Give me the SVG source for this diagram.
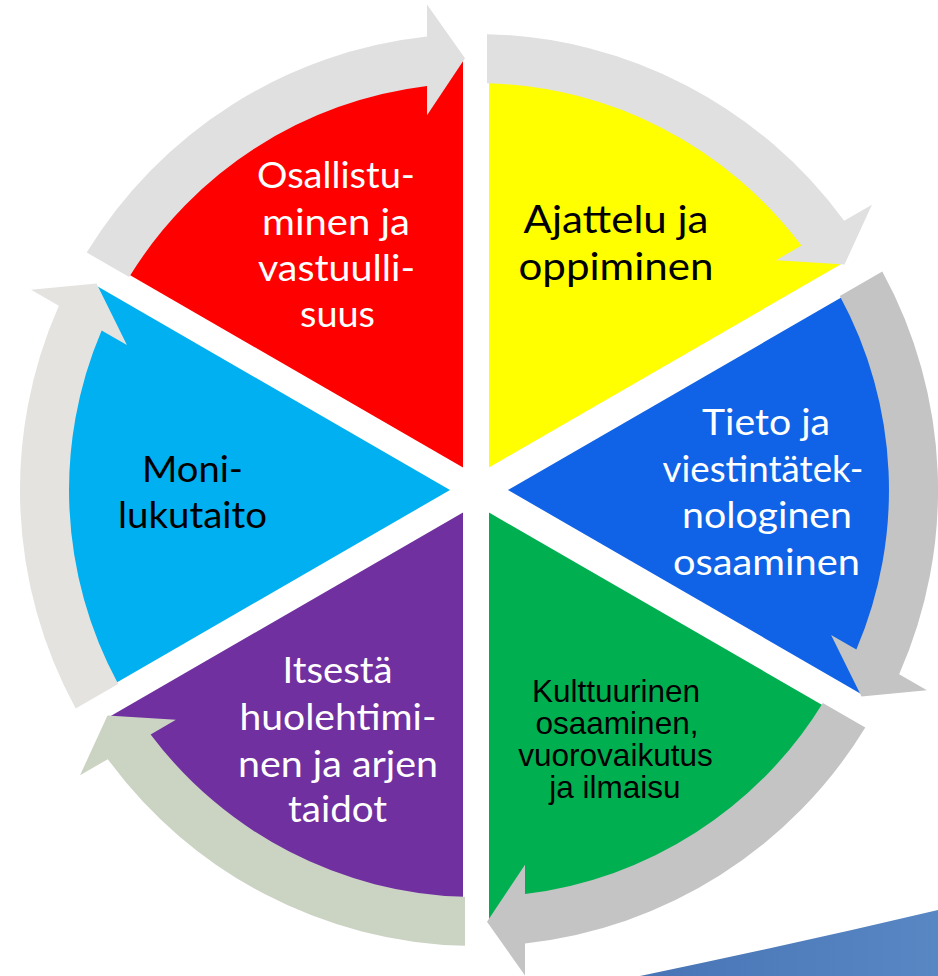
<svg xmlns="http://www.w3.org/2000/svg" width="938" height="976" viewBox="0 0 938 976">
<defs>
<style>
.lbl{font-family:Lato,"Open Sans","Noto Sans",sans-serif;text-anchor:middle}
.arl{font-family:"Liberation Sans",Arial,sans-serif;text-anchor:middle;font-size:31.5px;fill:#000}
.w{fill:#ffffff}
.k{fill:#000000}
.s36{font-size:36px}
.s37{font-size:37px}
.s38{font-size:38.5px}
.arrL{fill:#e0e0e0}
.arrD{fill:#c4c4c4}
.arrG{fill:#cbd3c3}
.arrW{fill:#e5e3e0}
</style>
<linearGradient id="sw" x1="0" y1="0" x2="1" y2="0">
<stop offset="0" stop-color="#4874b5"/>
<stop offset="1" stop-color="#5887c4"/>
</linearGradient>
</defs>
<rect width="938" height="976" fill="#ffffff"/>
<path id="swoosh" d="M640,976 Q790,945 938,910 L938,976 Z" fill="url(#sw)"/>

<g id="node-ajattelu">
<path d="M489,467.48 L489,60.2 A430,430 0 0 1 841.71,263.82 Z" fill="#ffff00"/>
<text class="lbl k s38"><tspan x="616" y="233" textLength="185" lengthAdjust="spacingAndGlyphs">Ajattelu ja</tspan><tspan x="616" y="280" textLength="195" lengthAdjust="spacingAndGlyphs">oppiminen</tspan></text>
</g>
<g id="node-tieto">
<path d="M502,490 L854.70,286.31 A430,430 0 0 1 854.70,693.69 Z" fill="#1063e6" transform="translate(6,0)"/>
<text class="lbl w s37"><tspan x="766" y="435" textLength="128" lengthAdjust="spacingAndGlyphs">Tieto ja</tspan><tspan x="763" y="482" textLength="201" lengthAdjust="spacingAndGlyphs">viestintätek-</tspan><tspan x="767" y="528" textLength="170" lengthAdjust="spacingAndGlyphs">nologinen</tspan><tspan x="766.5" y="575" textLength="187" lengthAdjust="spacingAndGlyphs">osaaminen</tspan></text>
</g>
<g id="node-kulttuurinen">
<path d="M489,512.52 L841.71,716.18 A430,430 0 0 1 489,919.8 Z" fill="#00b050"/>
<text class="arl"><tspan x="616" y="702">Kulttuurinen</tspan><tspan x="617" y="734">osaaminen,</tspan><tspan x="615.5" y="766">vuorovaikutus</tspan><tspan x="615" y="798">ja ilmaisu</tspan></text>
</g>
<g id="node-itsesta">
<path d="M463,512.52 L463,919.8 A430,430 0 0 1 110.29,716.18 Z" fill="#7030a0"/>
<text class="lbl w s36"><tspan x="337.5" y="683" textLength="110" lengthAdjust="spacingAndGlyphs">Itsestä</tspan><tspan x="338" y="730" textLength="197" lengthAdjust="spacingAndGlyphs">huolehtimi-</tspan><tspan x="338" y="776.5" textLength="200" lengthAdjust="spacingAndGlyphs">nen ja arjen</tspan><tspan x="337.5" y="822" textLength="99" lengthAdjust="spacingAndGlyphs">taidot</tspan></text>
</g>
<g id="node-monilukutaito">
<path d="M450,490 L97.30,693.69 A430,430 0 0 1 97.30,286.31 Z" fill="#00b0f0"/>
<text class="lbl k s36"><tspan x="192.5" y="482" textLength="101" lengthAdjust="spacingAndGlyphs">Moni-</tspan><tspan x="192.5" y="528" textLength="149" lengthAdjust="spacingAndGlyphs">lukutaito</tspan></text>
</g>
<g id="node-osallistuminen">
<path d="M463,467.48 L110.29,263.82 A430,430 0 0 1 463,60.2 Z" fill="#ff0000"/>
<text class="lbl w s36"><tspan x="336" y="188" textLength="158" lengthAdjust="spacingAndGlyphs">Osallistu-</tspan><tspan x="336" y="234.5" textLength="148" lengthAdjust="spacingAndGlyphs">minen ja</tspan><tspan x="336.5" y="281" textLength="157" lengthAdjust="spacingAndGlyphs">vastuulli-</tspan><tspan x="337.5" y="327" textLength="75" lengthAdjust="spacingAndGlyphs">suus</tspan></text>
</g>

<g id="connectors">
<path class="arrL" d="M86.70,252.54 A456,456 0 0 1 427,36.6 L427,4.5 L465,58.14 L427,115.2 L427,86.0 A407,407 0 0 0 129.16,277.05 Z"/>
<path class="arrL" d="M487,34.13 A456,456 0 0 1 844.16,220.87 L871.95,204.82 L844.50,264.54 L776.09,260.17 L801.37,245.57 A407,407 0 0 0 487,83.15 Z"/>
<path class="arrD" transform="translate(6,0)" d="M876.30,271.59 A456,456 0 0 1 893.16,674.27 L920.95,690.32 L855.50,696.40 L825.09,634.97 L850.37,649.57 A407,407 0 0 0 833.84,296.10 Z"/>
<path class="arrD" d="M865.30,727.46 A456,456 0 0 1 525,943.4 L525,975.5 L487,921.86 L525,864.8 L525,894.0 A407,407 0 0 0 822.84,702.95 Z"/>
<path class="arrG" d="M465,945.87 A456,456 0 0 1 107.84,759.14 L80.05,775.19 L107.50,715.46 L175.91,719.84 L150.63,734.44 A407,407 0 0 0 465,896.85 Z"/>
<path class="arrW" d="M75.70,708.41 A456,456 0 0 1 58.84,305.74 L31.05,289.69 L96.50,283.60 L126.91,345.04 L101.63,330.44 A407,407 0 0 0 118.16,683.90 Z"/>
</g>
</svg>
